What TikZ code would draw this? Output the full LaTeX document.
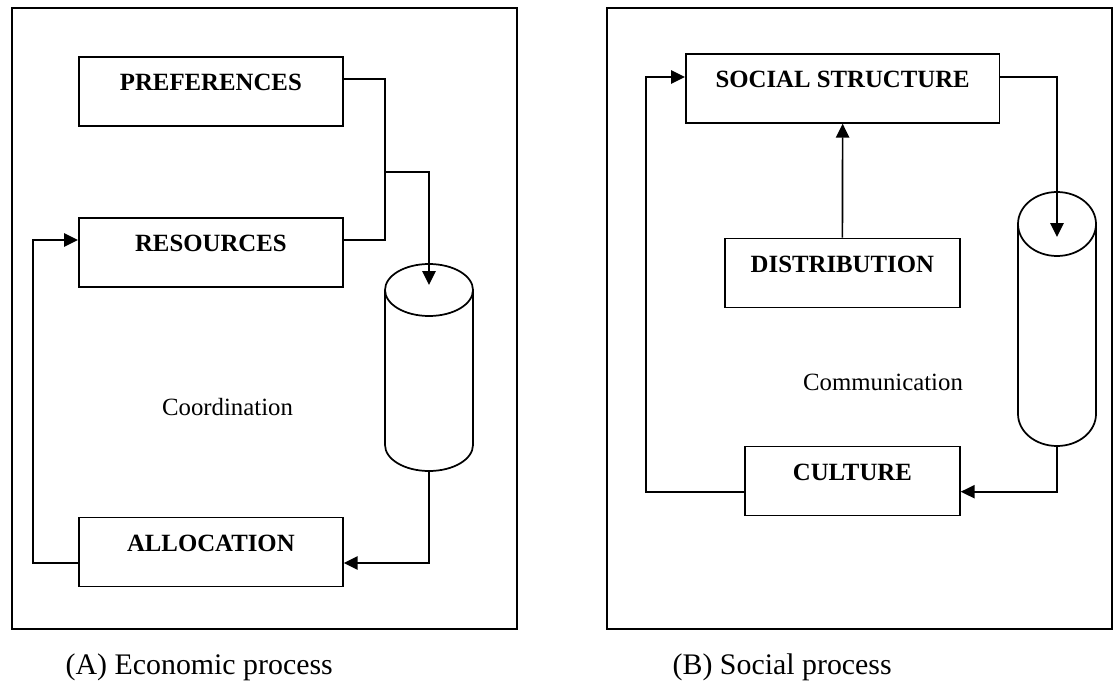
\documentclass[tikz,border=0pt]{standalone}
\usepackage{fontspec}
\setmainfont{Liberation Serif}
\usetikzlibrary{arrows.meta}

\begin{document}
\begin{tikzpicture}[x=0.75pt,y=-0.75pt,
  panel/.style={draw, line width=1.4pt},
  procbox/.style={draw, line width=1.3pt, rectangle, inner sep=0pt,
    anchor=north west, text height=25.5pt, text depth=26.25pt,
    font=\fontsize{18.6pt}{20pt}\selectfont\bfseries},
  flow/.style={line width=1.25pt},
  arr/.style={flow, -{Triangle[length=10.5pt,width=10pt]}},
  tube/.style={draw, line width=1.3pt},
  lbl/.style={font=\fontsize{18.6pt}{20pt}\selectfont, anchor=base},
  caption/.style={font=\fontsize{22.4pt}{24pt}\selectfont, anchor=base west}]

\useasboundingbox (0,0) rectangle (1117,681);

% panel frames
\draw[panel] (11.8,8) rectangle (517,629);
\draw[panel] (607,8) rectangle (1112,629);

% ---------------- (A) economic process ----------------
\node[procbox, minimum width=198pt] (pref)  at (78,56)    {PREFERENCES};
\node[procbox, minimum width=198pt] (res)   at (78,217)   {RESOURCES};
\node[procbox, minimum width=198pt] (alloc) at (78,516.7) {ALLOCATION};

% coordination tube
\draw[tube] (429,290) ellipse [x radius=44, y radius=26];
\draw[tube] (385,290) -- (385,445)
  arc [start angle=180, end angle=0, x radius=44, y radius=26] -- (473,290);
\coordinate (tubeAin)  at (429,285);
\coordinate (tubeAout) at (429,471);
\coordinate (joinA)    at (385,171.7);
\coordinate (loopA)    at (33,400);

\draw[flow] (pref.east |- 0,79) -| (joinA);
\draw[flow] (res.east |- 0,240) -| (joinA);
\draw[arr] (joinA) -| (tubeAin);
\draw[arr] (tubeAout) |- (alloc.east |- 0,563);
\draw[arr] (alloc.west |- 0,563) -| (loopA) |- (res.west |- 0,240);

\node[lbl] (coord) at (227.5,415) {Coordination};
\node[caption] (capA) at (61,674) {(A) Economic process};

% ---------------- (B) social process ----------------
\node[procbox, minimum width=235.2pt]  (social)  at (685,53)    {SOCIAL STRUCTURE};
\node[procbox, minimum width=176.25pt] (dist)    at (724,237.7) {DISTRIBUTION};
\node[procbox, minimum width=161.25pt] (culture) at (744,445.7) {CULTURE};

% communication tube
\draw[tube] (1057,224) ellipse [x radius=39, y radius=32];
\draw[tube] (1018,224) -- (1018,414)
  arc [start angle=180, end angle=0, x radius=39, y radius=32] -- (1096,224);
\coordinate (tubeBin)  at (1057,237);
\coordinate (tubeBout) at (1057,446);
\coordinate (loopB)    at (646,300);

\draw[arr] (social.east |- 0,77) -| (tubeBin);
\draw[arr] (tubeBout) |- (culture.east |- 0,491.7);
\draw[arr] (culture.west |- 0,491.7) -| (loopB) |- (social.west |- 0,77);
\draw[arr] (dist.north) -- (social.south);

\node[lbl] (comm) at (883,390.7) {Communication};
\node[caption] (capB) at (668,674) {(B) Social process};
\end{tikzpicture}
\end{document}
